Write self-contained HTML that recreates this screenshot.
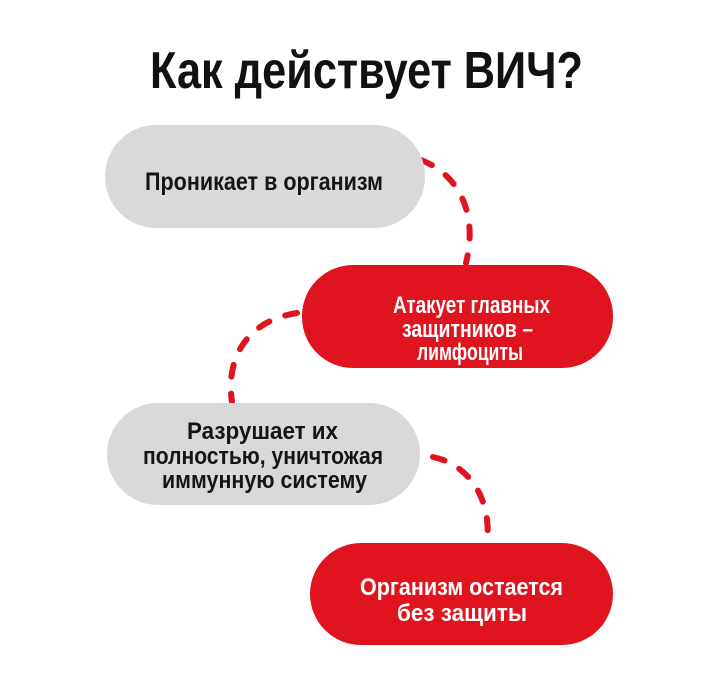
<!DOCTYPE html>
<html><head><meta charset="utf-8"><style>
html,body{margin:0;padding:0;background:#fff;}
svg{display:block;}
text{font-family:"Liberation Sans",sans-serif;font-weight:bold;}
</style></head><body>
<svg width="720" height="688" viewBox="0 0 720 688" xmlns="http://www.w3.org/2000/svg">
<text x="150" y="88" font-size="52" fill="#111" textLength="433" lengthAdjust="spacingAndGlyphs">Как действует ВИЧ?</text>

<g fill="none" stroke="#e0141e" stroke-width="6" stroke-linecap="round" stroke-dasharray="12 17">
<path d="M421,160 C460,175 478,215 466,263"/>
<path d="M297,313 C250,320 225,355 232,402"/>
<path d="M433,457 C470,465 492,500 487,543"/>
</g>

<rect x="105" y="125" width="320" height="103" rx="51" fill="#d9d9d9"/>
<rect x="302" y="265" width="311" height="103" rx="51" fill="#e0141e"/>
<rect x="107" y="403" width="313" height="102" rx="51" fill="#d9d9d9"/>
<rect x="310" y="543" width="303" height="102" rx="51" fill="#e0141e"/>

<text x="145" y="190" font-size="25" fill="#151515" textLength="238" lengthAdjust="spacingAndGlyphs">Проникает в организм</text>

<g fill="#fff" font-size="24">
<text x="393" y="313" textLength="157" lengthAdjust="spacingAndGlyphs">Атакует главных</text>
<text x="402" y="337" textLength="131" lengthAdjust="spacingAndGlyphs">защитников –</text>
<text x="417" y="360" textLength="106" lengthAdjust="spacingAndGlyphs">лимфоциты</text>
</g>

<g fill="#151515" font-size="24">
<text x="187" y="439" textLength="151" lengthAdjust="spacingAndGlyphs">Разрушает их</text>
<text x="143" y="464" textLength="240" lengthAdjust="spacingAndGlyphs">полностью, уничтожая</text>
<text x="162" y="488" textLength="205" lengthAdjust="spacingAndGlyphs">иммунную систему</text>
</g>

<g fill="#fff" font-size="24">
<text x="360" y="595" textLength="203" lengthAdjust="spacingAndGlyphs">Организм остается</text>
<text x="397" y="621" textLength="130" lengthAdjust="spacingAndGlyphs">без защиты</text>
</g>
</svg>
</body></html>
